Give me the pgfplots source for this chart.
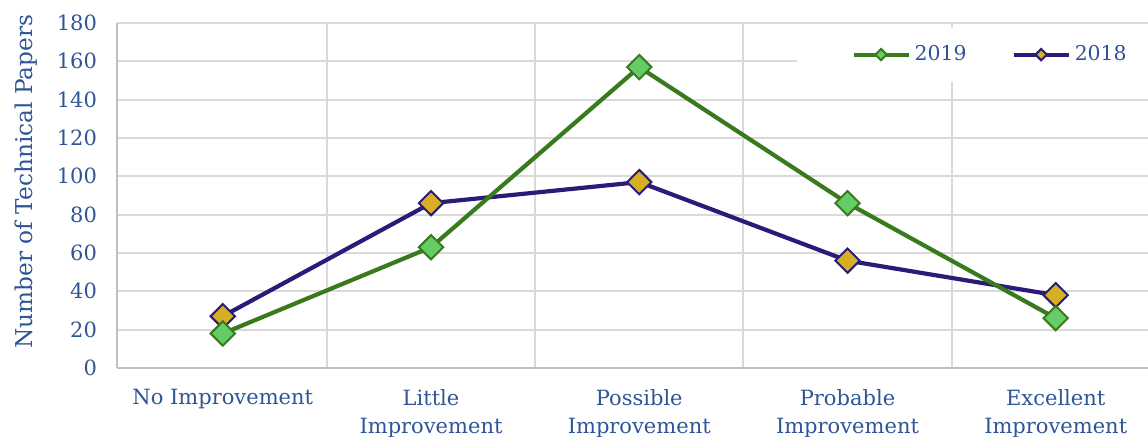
\documentclass[border=0pt]{standalone}
\usepackage{fontspec}
\setmainfont{DejaVu Serif}
\usepackage{pgfplots}
\pgfplotsset{compat=1.18}
\definecolor{txtblue}{HTML}{2F5597}
\definecolor{grn}{HTML}{3A7A1E}
\definecolor{grnfill}{HTML}{66CC66}
\definecolor{navy}{HTML}{2A1B78}
\definecolor{gold}{HTML}{D6B022}
\definecolor{gridgray}{HTML}{D9D9D9}
\definecolor{axisgray}{HTML}{BFBFBF}
\begin{document}
\begin{tikzpicture}
\begin{axis}[
  scale only axis, width=515.5pt, height=172.5pt,
  xmin=-0.508, xmax=4.443, ymin=0, ymax=180,
  axis x line*=bottom, axis y line*=left,
  x axis line style={axisgray, line width=1.2pt, -},
  y axis line style={axisgray, line width=1pt, -},
  ytick={0,20,...,180},
  xtick={0,...,4},
  xticklabels={{No Improvement},{Little\\Improvement},{Possible\\Improvement},{Probable\\Improvement},{Excellent\\Improvement}},
  minor xtick={0.5,1.5,2.5,3.5},
  ymajorgrids, xminorgrids,
  major grid style={gridgray, line width=1pt},
  minor grid style={gridgray, line width=1pt},
  major tick length=0pt, minor tick length=0pt,
  /pgf/number format/assume math mode=true,
  tick label style={font=\fontsize{10.5}{14}\selectfont, text=txtblue},
  xticklabel style={align=center, anchor=north, yshift=-7pt},
  yticklabel style={anchor=east, xshift=-6.5pt},
  ylabel={Number of Technical Papers},
  every axis y label/.style={at={(rel axis cs:0,0.54)}, rotate=90, anchor=center, yshift=45.5pt,
     font=\fontsize{11.6}{12}\selectfont, text=txtblue},
  legend style={at={(rel axis cs:0.6596,0.988)}, anchor=north west, fill=white, draw=none,
     legend columns=2, font=\fontsize{10.2}{12}\selectfont, text=txtblue,
     inner xsep=27pt, inner ysep=7pt,
     /tikz/every even column/.append style={column sep=20.5pt}},
  legend image code/.code={\draw[#1, mark size=2pt, mark repeat=2, mark phase=2]
     plot coordinates {(0pt,0pt) (13.75pt,0pt) (27.5pt,0pt)};},
  reverse legend,
]
% 2018 series
\addplot[navy, line width=2.1pt, mark=square*, mark size=4.3pt,
  mark options={rotate=45, fill=gold, draw=navy, line width=1pt}]
  coordinates {(0,27) (1,86) (2,97) (3,56) (4,38)};
\addlegendentry{2018}
% 2019 series
\addplot[grn, line width=2.1pt, mark=square*, mark size=4.3pt,
  mark options={rotate=45, fill=grnfill, draw=grn, line width=1pt}]
  coordinates {(0,18) (1,63) (2,157) (3,86) (4,26)};
\addlegendentry{2019}
\end{axis}
\pgfresetboundingbox
\path (-58.5pt,-34pt) rectangle (515.5pt,184pt);
\end{tikzpicture}
\end{document}
